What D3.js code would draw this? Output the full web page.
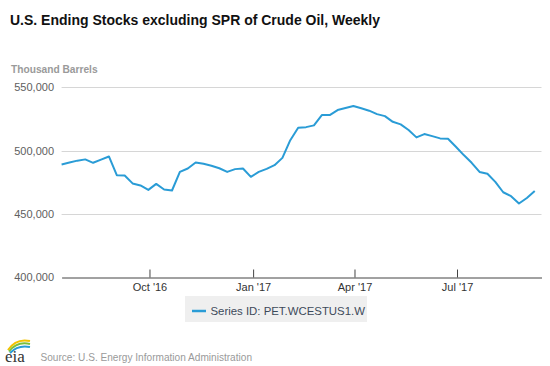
<!DOCTYPE html>
<html><head><meta charset="utf-8">
<script src="https://cdn.jsdelivr.net/npm/d3@7"></script>
<style>body{margin:0;background:#fff;}svg{display:block;font-family:"Liberation Sans",Arial,sans-serif;}</style>
</head><body><svg id="c" width="550" height="366"></svg>
<script>
const startDate = "2016-07-15";
const values = [
 489000,490500,492000,493000,490300,492800,495300,480500,480300,474000,
 472400,468900,473600,469200,468400,483100,485800,490600,489500,488000,
 486000,483100,485300,485800,479200,483100,485500,488400,494200,508200,
 518000,518500,519900,528000,528000,532000,533600,535200,533400,531500,
 528800,527200,522700,520700,516200,510400,513000,511400,509600,509300,
 503000,496400,490300,483100,481600,475200,467000,463900,458100,462500,
 468000];
const yTicks = [400000,450000,500000,550000];
const xTickDates = ["2016-10-01","2017-01-01","2017-04-01","2017-07-01"];
const xTickLabels = ["Oct '16","Jan '17","Apr '17","Jul '17"];
const seriesName = "Series ID: PET.WCESTUS1.W";

const parse = d3.utcParse("%Y-%m-%d");
const t0 = parse(startDate);
const data = values.map((v,i)=>({date:d3.utcDay.offset(t0,7*i), value:v}));

const svg = d3.select("#c");
const L=61.6, R=541.5, T=87.3, B=277;
const x = d3.scaleUtc().domain([t0, parse("2017-09-14")]).range([L,R]);
const y = d3.scaleLinear().domain([400000,550000]).range([B,T]);

svg.append("text").attr("x",10).attr("y",24.5).attr("font-size",14).attr("font-weight","bold").attr("fill","#111")
  .text("U.S. Ending Stocks excluding SPR of Crude Oil, Weekly");
svg.append("text").attr("x",11).attr("y",72.5).attr("font-size",10.2).attr("font-weight","bold").attr("fill","#9a9a9a")
  .text("Thousand Barrels");

// grid
svg.append("g").selectAll("line").data(yTicks.slice(1)).join("line")
  .attr("x1",L).attr("x2",R).attr("y1",d=>Math.round(y(d))+0.5).attr("y2",d=>Math.round(y(d))+0.5)
  .attr("stroke","#d6d6d6").attr("stroke-width",1);

// y labels
svg.append("g").selectAll("text").data(yTicks).join("text")
  .attr("x",54).attr("y",d=>y(d)+4).attr("text-anchor","end").attr("font-size",11).attr("fill","#606060")
  .text(d=>d3.format(",")(d));

// x axis
const xa = d3.axisBottom(x).tickValues(xTickDates.map(parse)).tickSize(8).tickSizeOuter(0)
  .tickFormat((d,i)=>xTickLabels[i]);
const g = svg.append("g").attr("transform",`translate(0,${Math.round(B)+0.5})`).call(xa);
g.select(".domain").attr("stroke","#444");
g.selectAll(".tick line").attr("stroke","#444").attr("transform","translate(0,-8)");
g.selectAll(".tick text").attr("font-size",11).attr("fill","#333").attr("font-family","Liberation Sans, Arial, sans-serif").attr("dy","0.2em");

// line
svg.append("path").datum(data).attr("fill","none").attr("stroke","#2a9cd6").attr("stroke-width",2)
  .attr("stroke-linejoin","round")
  .attr("d", d3.line().x(d=>x(d.date)).y(d=>y(d.value)));

// legend
svg.append("rect").attr("x",185).attr("y",296).attr("width",182).attr("height",26).attr("fill","#efefef");
svg.append("line").attr("x1",192).attr("x2",206).attr("y1",311).attr("y2",311).attr("stroke","#2a9cd6").attr("stroke-width",2.5);
svg.append("text").attr("x",210.5).attr("y",315).attr("font-size",11.4).attr("fill","#3d4a5a").text(seriesName);

// source
svg.append("text").attr("x",40.5).attr("y",361).attr("font-size",10.1).attr("fill","#9a9a9a")
  .text("Source: U.S. Energy Information Administration");
// eia logo
const lg = svg.append("g");
lg.append("path").attr("d","M8,350 Q16,338 30,341").attr("fill","none").attr("stroke","#f2c200").attr("stroke-width",2);
lg.append("path").attr("d","M9,351.5 Q17,341 30,344").attr("fill","none").attr("stroke","#7cbf3a").attr("stroke-width",2);
lg.append("path").attr("d","M10,353 Q18,344.5 30,347").attr("fill","none").attr("stroke","#2a9cd6").attr("stroke-width",2);
lg.append("text").attr("x",5).attr("y",362).attr("font-family","Liberation Serif, serif").attr("font-size",17).attr("fill","#333").text("eia");
</script></body></html>
